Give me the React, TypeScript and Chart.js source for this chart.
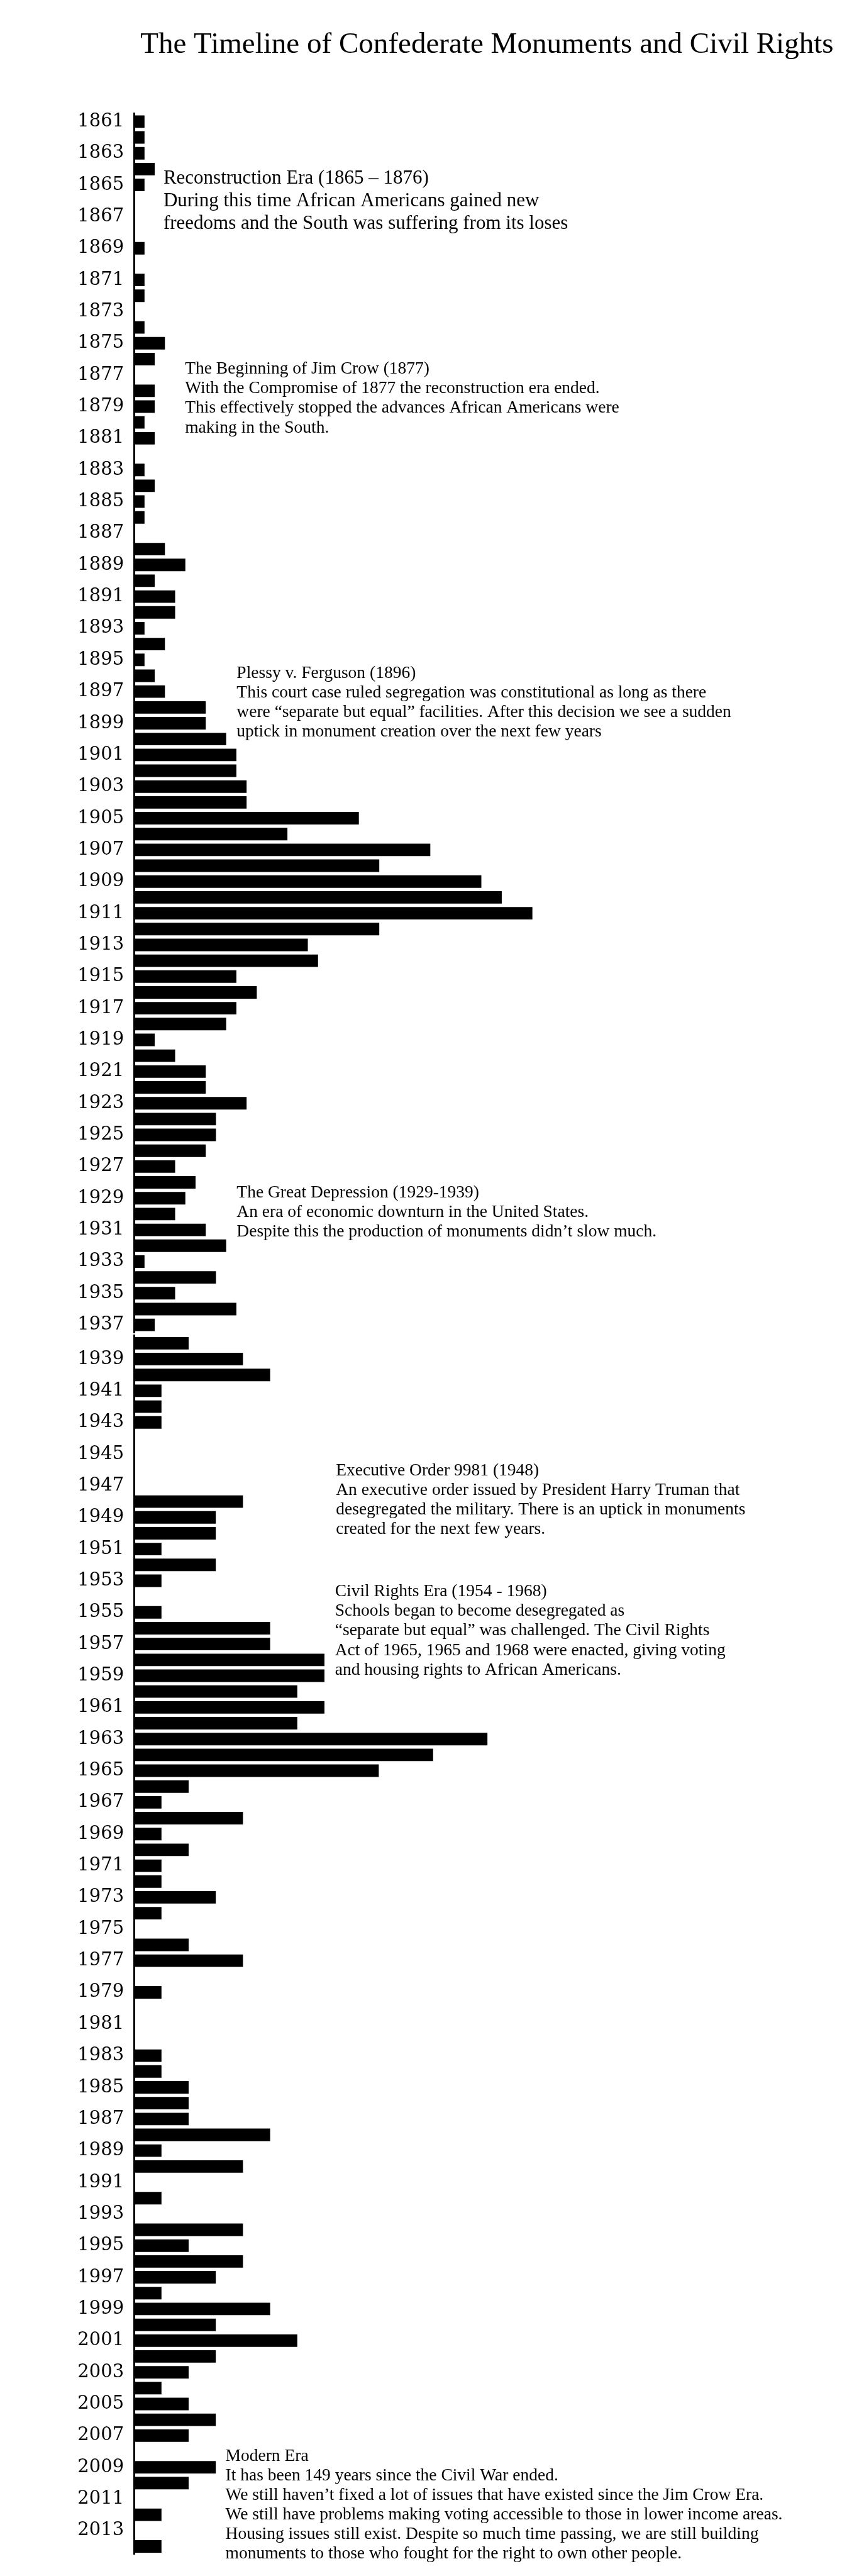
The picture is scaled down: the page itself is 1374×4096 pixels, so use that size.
import React, { useEffect, useRef } from 'react';
import { Chart, registerables } from 'chart.js';

Chart.register(...registerables);

const S = 0.887;
const PAGE_W = 1374;

const TITLE = 'The Timeline of Confederate Monuments and Civil Rights';

// ---------- data: upper panel (1861-1937) ----------
const TOP_YEARS = [
  1861, 1862, 1863, 1864, 1865, 1866, 1867, 1868, 1869, 1870,
  1871, 1872, 1873, 1874, 1875, 1876, 1877, 1878, 1879, 1880,
  1881, 1882, 1883, 1884, 1885, 1886, 1887, 1888, 1889, 1890,
  1891, 1892, 1893, 1894, 1895, 1896, 1897, 1898, 1899, 1900,
  1901, 1902, 1903, 1904, 1905, 1906, 1907, 1908, 1909, 1910,
  1911, 1912, 1913, 1914, 1915, 1916, 1917, 1918, 1919, 1920,
  1921, 1922, 1923, 1924, 1925, 1926, 1927, 1928, 1929, 1930,
  1931, 1932, 1933, 1934, 1935, 1936, 1937,
];
const TOP_COUNTS = [
  1, 1, 1, 2, 1, 0, 0, 0, 1, 0,
  1, 1, 0, 1, 3, 2, 0, 2, 2, 1,
  2, 0, 1, 2, 1, 1, 0, 3, 5, 2,
  4, 4, 1, 3, 1, 2, 3, 7, 7, 9,
  10, 10, 11, 11, 22, 15, 29, 24, 34, 36,
  39, 24, 17, 18, 10, 12, 10, 9, 2, 4,
  7, 7, 11, 8, 8, 7, 4, 6, 5, 4,
  7, 9, 1, 8, 4, 10, 2,
];

// ---------- data: lower panel (1938-2014) ----------
const BOTTOM_YEARS = [
  1938, 1939, 1940, 1941, 1942, 1943, 1944, 1945, 1946, 1947,
  1948, 1949, 1950, 1951, 1952, 1953, 1954, 1955, 1956, 1957,
  1958, 1959, 1960, 1961, 1962, 1963, 1964, 1965, 1966, 1967,
  1968, 1969, 1970, 1971, 1972, 1973, 1974, 1975, 1976, 1977,
  1978, 1979, 1980, 1981, 1982, 1983, 1984, 1985, 1986, 1987,
  1988, 1989, 1990, 1991, 1992, 1993, 1994, 1995, 1996, 1997,
  1998, 1999, 2000, 2001, 2002, 2003, 2004, 2005, 2006, 2007,
  2008, 2009, 2010, 2011, 2012, 2013, 2014,
];
const BOTTOM_COUNTS = [
  2, 4, 5, 1, 1, 1, 0, 0, 0, 0,
  4, 3, 3, 1, 3, 1, 0, 1, 5, 5,
  7, 7, 6, 7, 6, 13, 11, 9, 2, 1,
  4, 1, 2, 1, 1, 3, 1, 0, 2, 4,
  0, 1, 0, 0, 0, 1, 1, 2, 2, 2,
  5, 1, 4, 0, 1, 0, 4, 2, 4, 3,
  1, 5, 3, 6, 3, 2, 1, 2, 3, 2,
  0, 3, 2, 0, 1, 0, 1,
];

// ---------- annotation texts ----------
const NOTE_RECONSTRUCTION = [
  'Reconstruction Era (1865 \u2013 1876)',
  'During this time African Americans gained new',
  'freedoms and the South was suffering from its loses',
];
const NOTE_JIM_CROW = [
  'The Beginning of Jim Crow (1877)',
  'With the Compromise of 1877 the reconstruction era ended.',
  'This effectively stopped the advances African Americans were',
  'making in the South.',
];
const NOTE_PLESSY = [
  'Plessy v. Ferguson (1896)',
  'This court case ruled segregation was constitutional as long as there',
  'were \u201cseparate but equal\u201d facilities. After this decision we see a sudden',
  'uptick in monument creation over the next few years',
];
const NOTE_DEPRESSION = [
  'The Great Depression (1929-1939)',
  'An era of economic downturn in the United States.',
  'Despite this the production of monuments didn\u2019t slow much.',
];
const NOTE_EO = [
  'Executive Order 9981 (1948)',
  'An executive order issued by President Harry Truman that',
  'desegregated the military. There is an uptick in monuments',
  'created for the next few years.',
];
const NOTE_CIVIL = [
  'Civil Rights Era (1954 - 1968)',
  'Schools began to become desegregated as',
  '\u201cseparate but equal\u201d was challenged. The Civil Rights',
  'Act of 1965, 1965 and 1968 were enacted, giving voting',
  'and housing rights to African Americans.',
];
const NOTE_MODERN = [
  'Modern Era',
  'It has been 149 years since the Civil War ended.',
  'We still haven\u2019t fixed a lot of issues that have existed since the Jim Crow Era.',
  'We still have problems making voting accessible to those in lower income areas.',
  'Housing issues still exist. Despite so much time passing, we are still building',
  'monuments to those who fought for the right to own other people.',
];

type Note = { at: number; x: number; size: number; lh: number; lines: string[] };

const TEXT_FONT = '"Liberation Serif", "Times New Roman", serif';
const LABEL_FONT = '"DejaVu Serif", serif';

const TOP_NOTES: Note[] = [
  { at: 1864.92, x: 293 * S, size: 31, lh: 40.3 * S, lines: NOTE_RECONSTRUCTION },
  { at: 1876.93, x: 331.7 * S, size: 27.5, lh: 35 * S, lines: NOTE_JIM_CROW },
  { at: 1896.13, x: 424.3 * S, size: 27.5, lh: 35 * S, lines: NOTE_PLESSY },
  { at: 1928.96, x: 424.3 * S, size: 27.5, lh: 35 * S, lines: NOTE_DEPRESSION },
];
const BOTTOM_NOTES: Note[] = [
  { at: 1946.35, x: 602.3 * S, size: 27.5, lh: 35 * S, lines: NOTE_EO },
  { at: 1953.99, x: 600.6 * S, size: 27.5, lh: 35 * S, lines: NOTE_CIVIL },
  { at: 2008.6, x: 404.2 * S, size: 27.5, lh: 35 * S, lines: NOTE_MODERN },
];

const LABEL_LEFT = 139 * S;
const PLOT_LEFT = 240.8 * S;
const PLOT_RIGHT = 1360;

type PanelProps = {
  years: number[];
  counts: number[];
  unitPx: number;
  top: number;
  height: number;
  areaTop: number;
  areaBottom: number;
  notes: Note[];
  showTitle: boolean;
};

function Panel(props: PanelProps) {
  const ref = useRef<HTMLCanvasElement | null>(null);
  useEffect(() => {
    const canvas = ref.current;
    if (!canvas) return;
    const { years, counts, unitPx, height, areaTop, areaBottom, notes, showTitle } = props;
    const first = years[0];
    const textPlugin = {
      id: 'panelText',
      afterDraw(chart: any) {
        const ctx = chart.ctx as CanvasRenderingContext2D;
        const yScale = chart.scales.y;
        ctx.save();
        ctx.fillStyle = '#000';
        ctx.textAlign = 'left';
        ctx.textBaseline = 'alphabetic';
        if (showTitle) {
          ctx.font = `100px ${TEXT_FONT}`;
          const w = ctx.measureText(TITLE).width;
          const size = (100 * (1243 * S)) / w;
          ctx.font = `${size}px ${TEXT_FONT}`;
          ctx.fillText(TITLE, 251.6 * S, 95 * S);
        }
        for (const n of notes) {
          ctx.font = `${n.size}px ${TEXT_FONT}`;
          const y0 = yScale.getPixelForValue(n.at - first);
          n.lines.forEach((line, i) => ctx.fillText(line, n.x, y0 + i * n.lh));
        }
        ctx.restore();
      },
    };
    const chart = new Chart(canvas, {
      type: 'bar',
      data: {
        labels: years.map(String),
        datasets: [
          {
            data: counts,
            backgroundColor: '#000',
            borderWidth: 0,
            barPercentage: 0.79,
            categoryPercentage: 1,
          },
        ],
      },
      options: {
        indexAxis: 'y',
        responsive: false,
        maintainAspectRatio: false,
        animation: false,
        devicePixelRatio: 1,
        layout: {
          padding: {
            left: LABEL_LEFT,
            right: PAGE_W - PLOT_RIGHT,
            top: areaTop,
            bottom: height - areaBottom,
          },
        },
        plugins: {
          legend: { display: false },
          tooltip: { enabled: false },
          title: { display: false },
        },
        scales: {
          x: {
            display: false,
            min: 0,
            max: (PLOT_RIGHT - PLOT_LEFT) / unitPx,
          },
          y: {
            grid: { display: false, drawTicks: false },
            border: { display: true, color: '#000', width: 3 },
            ticks: {
              autoSkip: false,
              crossAlign: 'far',
              padding: 0,
              color: '#000',
              font: { family: LABEL_FONT, size: 29 },
              callback: (_v: any, i: number) => (years[i] % 2 === 1 ? String(years[i]) : ''),
            },
            afterFit: (scale: any) => {
              scale.width = PLOT_LEFT - LABEL_LEFT;
            },
          },
        },
      } as any,
      plugins: [textPlugin],
    });
    return () => chart.destroy();
  }, []);
  return (
    <canvas
      ref={ref}
      width={PAGE_W}
      height={props.height}
      style={{ position: 'absolute', left: 0, top: props.top, width: PAGE_W, height: props.height }}
    />
  );
}

export default function App() {
  // upper panel: bands from 203.8 to 2389 (reference px); lower: 2393.8 to 4579
  const topH = 2160;
  const botTop = 2080;
  const botH = 4096 - botTop;
  return (
    <div style={{ position: 'absolute', left: 0, top: 0, width: PAGE_W, height: 4096, background: '#fff' }}>
      <Panel
        years={TOP_YEARS}
        counts={TOP_COUNTS}
        unitPx={18.3 * S}
        top={0}
        height={topH}
        areaTop={203.8 * S}
        areaBottom={2389.2 * S}
        notes={TOP_NOTES}
        showTitle={true}
      />
      <Panel
        years={BOTTOM_YEARS}
        counts={BOTTOM_COUNTS}
        unitPx={48.7 * S}
        top={botTop}
        height={botH}
        areaTop={2393.8 * S - botTop}
        areaBottom={4579 * S - botTop}
        notes={BOTTOM_NOTES}
        showTitle={false}
      />
    </div>
  );
}
